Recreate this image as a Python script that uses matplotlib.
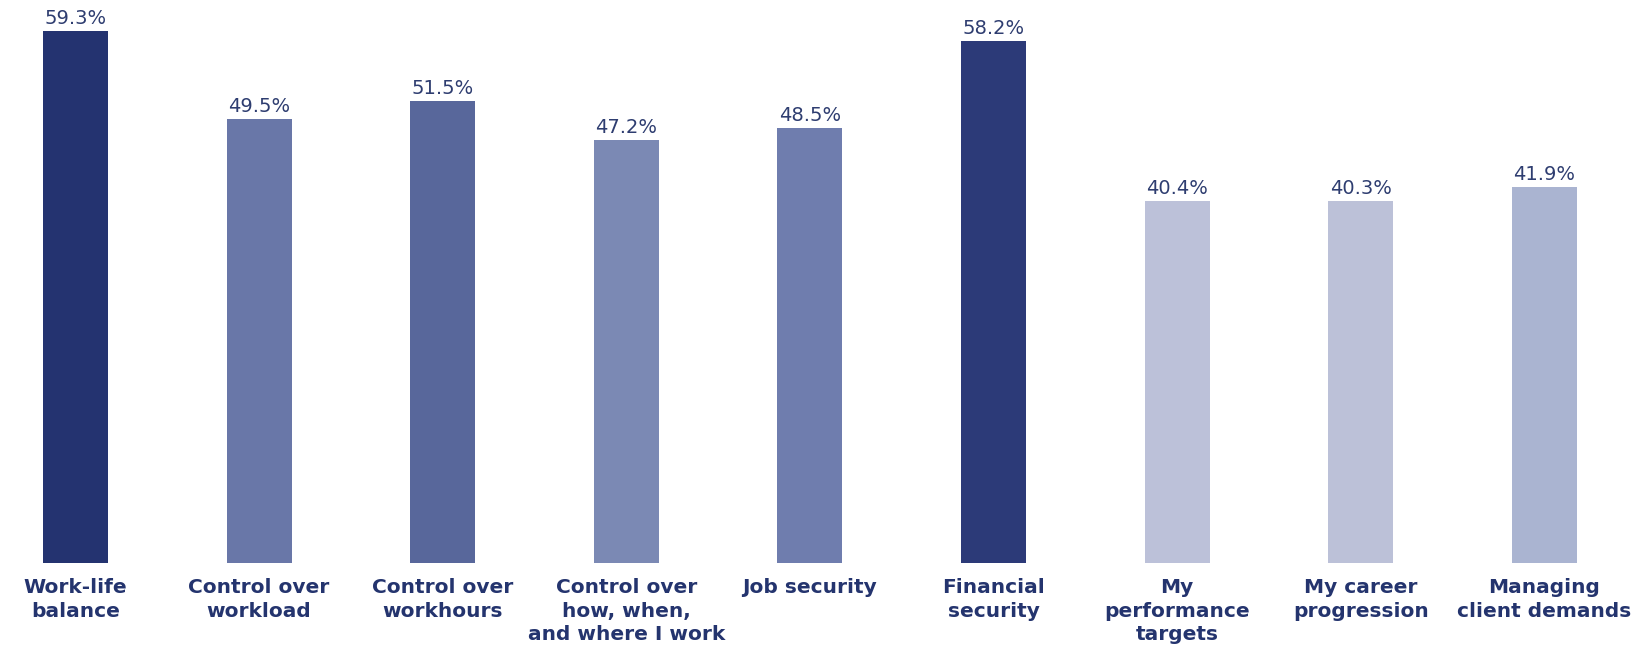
import matplotlib
matplotlib.use("Agg")
import matplotlib.pyplot as plt
import numpy as np

categories = [
    "Work-life\nbalance",
    "Control over\nworkload",
    "Control over\nworkhours",
    "Control over\nhow, when,\nand where I work",
    "Job security",
    "Financial\nsecurity",
    "My\nperformance\ntargets",
    "My career\nprogression",
    "Managing\nclient demands",
]
values = [59.3, 49.5, 51.5, 47.2, 48.5, 58.2, 40.4, 40.3, 41.9]
bar_colors = ["#243370", "#6977a8", "#58679b", "#7b89b4", "#6f7dae",
              "#2c3a78", "#bcc1d9", "#bcc1d8", "#aab4d1"]

navy = "#24346e"
value_color = "#2e3d70"

fig = plt.figure(figsize=(16.36, 6.48), dpi=100)
ax = fig.add_axes([0, 0.1312, 1, 0.8688])

x = np.arange(len(categories))
ax.bar(x, values, width=0.354, color=bar_colors)

# percentage labels sit just above each bar
for xi, v in zip(x, values):
    ax.annotate(f"{v:.1f}%", (xi, v), xytext=(0, 5), textcoords="offset points",
                ha="center", va="baseline", fontsize=14, color=value_color,
                fontfamily="DejaVu Sans", fontweight="normal")

ax.set_xlim(-0.4112, 8.4995)
ax.set_ylim(0, 62.75)
ax.set_xticks(x)
ax.set_xticklabels(categories, fontsize=14.5, fontweight="bold", color=navy,
                   linespacing=1.3)
ax.tick_params(axis="x", length=0, pad=11)
ax.set_yticks([])
for s in ax.spines.values():
    s.set_visible(False)

fig.savefig("out.png", dpi=100)
